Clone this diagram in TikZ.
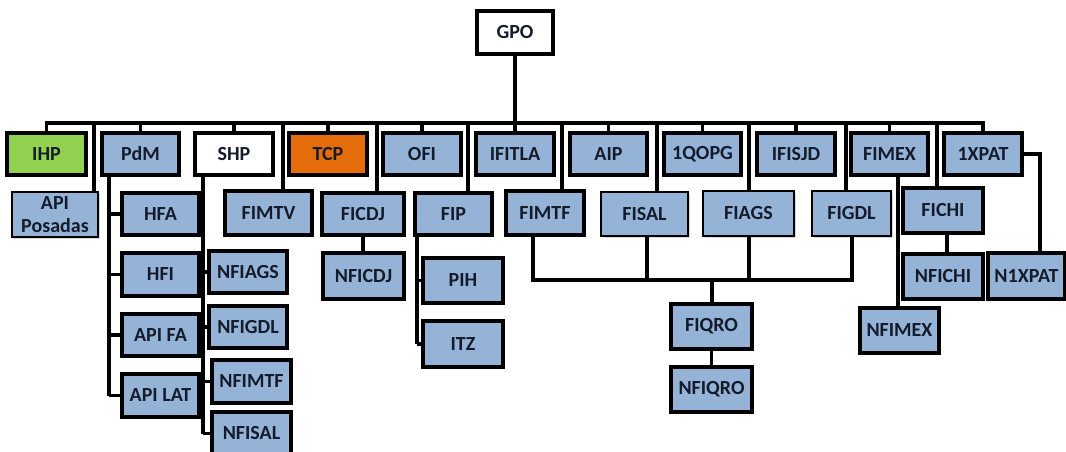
\documentclass[tikz,border=0pt]{standalone}
\usepackage{fontspec}
\setmainfont{Carlito}
\usetikzlibrary{shadows}
\definecolor{boxblue}{HTML}{95B3D7}
\definecolor{boxgreen}{HTML}{92D050}
\definecolor{boxorange}{HTML}{E46C0A}
\definecolor{txt}{HTML}{141B2B}
\begin{document}
\begin{tikzpicture}[x=0.5pt,y=-0.5pt,
  bx/.style 2 args={draw=black, line width=1.6pt, fill=boxblue,
    minimum width=#1*0.5pt, minimum height=#2*0.5pt, inner sep=0pt,
    align=center, font=\fontsize{10}{11.5}\selectfont\bfseries, text=txt,
    drop shadow={shadow xshift=1.2pt, shadow yshift=-1.2pt, opacity=0.3}},
  thinb/.style={line width=1pt},
  wbox/.style={fill=white},
  gbox/.style={fill=boxgreen},
  obox/.style={fill=boxorange},
  ln/.style={draw=black, line width=1.6pt}]
\useasboundingbox (0,0) rectangle (1066,451);
\clip (0,0) rectangle (1066,451);
% top
\node[bx={76}{43}, wbox] (GPO) at (515,32.5) {GPO};
% row 1
\node[bx={79}{42}, gbox] (IHP) at (46.5,154) {IHP};
\node[bx={77}{42}] (PdM) at (140.5,154) {PdM};
\node[bx={78}{42}, wbox] (SHP) at (234,154) {SHP};
\node[bx={78}{42}, obox] (TCP) at (328,154) {TCP};
\node[bx={78}{42}] (OFI) at (422,154) {OFI};
\node[bx={78}{42}] (IFITLA) at (515,154) {IFITLA};
\node[bx={77}{42}] (AIP) at (608.5,154) {AIP};
\node[bx={77}{42}] (qopg) at (702.5,154) {1QOPG};
\node[bx={78}{42}] (IFISJD) at (796,154) {IFISJD};
\node[bx={77}{42}] (FIMEX) at (889.5,154) {FIMEX};
\node[bx={78}{42}] (xpat) at (983,154) {1XPAT};
% row 2
\node[bx={86}{45}, thinb] (APIP) at (55,214.5) {API\\Posadas};
\node[bx={87}{44}] (FIMTV) at (268.5,213) {FIMTV};
\node[bx={82}{42}] (FICDJ) at (363,214) {FICDJ};
\node[bx={77}{42}] (FIP) at (453.5,214) {FIP};
\node[bx={78}{44}] (FIMTF) at (545,213) {FIMTF};
\node[bx={87}{44}, thinb] (FISAL) at (644.5,214) {FISAL};
\node[bx={91}{45}, thinb] (FIAGS) at (748.5,213.5) {FIAGS};
\node[bx={79}{45}, thinb] (FIGDL) at (851.5,213.5) {FIGDL};
\node[bx={80}{45}] (FICHI) at (943,210.5) {FICHI};
% PdM children
\node[bx={77}{42}] (HFA) at (160.5,214) {HFA};
\node[bx={77}{43}] (HFI) at (160.5,274.5) {HFI};
\node[bx={77}{42}] (APIFA) at (160.5,335) {API FA};
\node[bx={77}{43}] (APILAT) at (160.5,395.5) {API LAT};
% SHP children
\node[bx={78}{42}] (NFIAGS) at (248,272) {NFIAGS};
\node[bx={78}{42}] (NFIGDL) at (248,327) {NFIGDL};
\node[bx={79}{43}] (NFIMTF) at (251.5,381.5) {NFIMTF};
\node[bx={79}{43}] (NFISAL) at (251.5,433.5) {NFISAL};
% others
\node[bx={81}{46}] (NFICDJ) at (363.5,276) {NFICDJ};
\node[bx={80}{45}] (PIH) at (463,280.5) {PIH};
\node[bx={80}{46}] (ITZ) at (463,344) {ITZ};
\node[bx={81}{45}] (FIQRO) at (711.5,326.5) {FIQRO};
\node[bx={81}{45}] (NFIQRO) at (711.5,389.5) {NFIQRO};
\node[bx={79}{45}] (NFIMEX) at (899.5,330.5) {NFIMEX};
\node[bx={80}{45}] (NFICHI) at (943,276.5) {NFICHI};
\node[bx={77}{46}] (NXPAT) at (1026.5,276) {N1XPAT};
% coordinates
\coordinate (busC) at (515,123);
\coordinate (d1) at (94,123);
\coordinate (d2) at (283,123);
\coordinate (d3) at (377,123);
\coordinate (d4) at (468,123);
\coordinate (d5) at (562,123);
\coordinate (d6) at (657,123);
\coordinate (d7) at (749,123);
\coordinate (d8) at (846,123);
\coordinate (d9) at (937,123);
\coordinate (pdmx) at (109,175);
\coordinate (shpx) at (203,175);
\coordinate (fipx) at (417,235);
\coordinate (m1) at (533,280);
\coordinate (m2) at (647,280);
\coordinate (m3) at (749,280);
\coordinate (m4) at (852,280);
\coordinate (mrg) at (712,280);
\coordinate (fx) at (898,175);
\coordinate (fcx) at (947,233);
\coordinate (xp) at (1040,154);
% connectors
\draw[ln] (GPO.south) -- (busC);
\draw[ln] (IHP.north) -- (IHP.north |- busC) -- (xpat.north |- busC) -- (xpat.north);
\foreach \n in {PdM,SHP,TCP,OFI,IFITLA,AIP,qopg,IFISJD,FIMEX}
  \draw[ln] (\n.north) -- (\n.north |- busC);
\draw[ln] (d1) -- (d1 |- APIP.north);
\draw[ln] (d2) -- (d2 |- FIMTV.north);
\draw[ln] (d3) -- (d3 |- FICDJ.north);
\draw[ln] (d4) -- (d4 |- FIP.north);
\draw[ln] (d5) -- (d5 |- FIMTF.north);
\draw[ln] (d6) -- (d6 |- FISAL.north);
\draw[ln] (d7) -- (d7 |- FIAGS.north);
\draw[ln] (d8) -- (d8 |- FIGDL.north);
\draw[ln] (d9) -- (d9 |- FICHI.north);
% PdM chain
\draw[ln] (pdmx |- PdM.south) -- (pdmx |- APILAT.west);
\foreach \n in {HFA,HFI,APIFA,APILAT}
  \draw[ln] (pdmx |- \n.west) -- (\n.west);
% SHP chain
\draw[ln] (shpx |- SHP.south) -- (shpx |- NFISAL.west);
\foreach \n in {NFIAGS,NFIGDL,NFIMTF,NFISAL}
  \draw[ln] (shpx |- \n.west) -- (\n.west);
% FICDJ
\draw[ln] (FICDJ.south) -- (FICDJ.south |- NFICDJ.north);
% FIP chain
\draw[ln] (fipx |- FIP.south) -- (fipx |- ITZ.west);
\draw[ln] (fipx |- PIH.west) -- (PIH.west);
\draw[ln] (fipx |- ITZ.west) -- (ITZ.west);
% merge to FIQRO
\draw[ln] (m1 |- FIMTF.south) -- (m1) -- (m4) -- (m4 |- FIGDL.south);
\draw[ln] (m2 |- FISAL.south) -- (m2);
\draw[ln] (m3 |- FIAGS.south) -- (m3);
\draw[ln] (mrg) -- (mrg |- FIQRO.north);
\draw[ln] (FIQRO.south) -- (NFIQRO.north);
% FIMEX
\draw[ln] (fx |- FIMEX.south) -- (fx |- NFIMEX.north);
% FICHI
\draw[ln] (fcx |- FICHI.south) -- (fcx |- NFICHI.north);
% 1XPAT
\draw[ln] (xpat.east) -- (xp) -- (xp |- NXPAT.north);
\end{tikzpicture}
\end{document}
